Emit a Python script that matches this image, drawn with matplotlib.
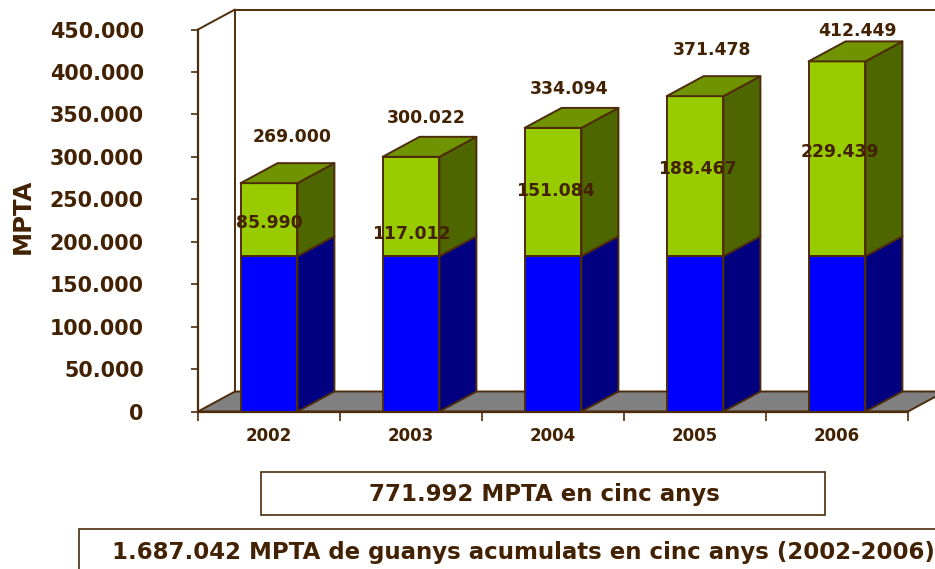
import matplotlib
matplotlib.use("Agg")
import matplotlib.pyplot as plt
from matplotlib.patches import Polygon, Rectangle

years = ["2002", "2003", "2004", "2005", "2006"]
base_values = [183010, 183010, 183010, 183011, 183010]
extra_values = [85990, 117012, 151084, 188467, 229439]
total_values = [269000, 300022, 334094, 371478, 412449]
yticks = list(range(0, 450001, 50000))

W, H = 935, 569
TXT = "#432203"
LINE = "#4D2C0C"
plt.rcParams["font.family"] = ["DejaVu Sans"]
plt.rcParams["font.weight"] = "bold"

fig = plt.figure(figsize=(W / 100, H / 100), dpi=100)
L, R, T, B = 198, 908, 29.5, 411.5
ax = fig.add_axes([L / W, 1 - B / H, (R - L) / W, (B - T) / H])
ax.set_xlim(0, 5)
ax.set_ylim(0, 450000)
ax.patch.set_alpha(0)

DX = 37 / (R - L) * 5
DY = 20 / (B - T) * 450000
BW = 0.4


def poly(pts, fc, z):
    ax.add_patch(Polygon(pts, closed=True, facecolor=fc, edgecolor=LINE, lw=1.4,
                         zorder=z, clip_on=False, joinstyle="round"))


# floor and walls
poly([(0, 0), (5, 0), (5 + DX, DY), (DX, DY)], "#808080", 1)
ax.plot([0, DX, DX], [450000, 450000 + DY, DY], color=LINE, lw=1.4, clip_on=False, zorder=1)
ax.plot([DX, 5.3], [450000 + DY, 450000 + DY], color=LINE, lw=1.4, clip_on=False, zorder=1)


def bar3d(x, y0, y1, front, side, top=None, z=3):
    l, r = x - BW / 2, x + BW / 2
    poly([(r, y0), (r + DX, y0 + DY), (r + DX, y1 + DY), (r, y1)], side, z)
    poly([(l, y0), (r, y0), (r, y1), (l, y1)], front, z)
    if top:
        poly([(l, y1), (r, y1), (r + DX, y1 + DY), (l + DX, y1 + DY)], top, z)


total_dy = [46, 39, 39, 46, 30]
total_dx = [23, 15, 16, 17, 20]
extra_dx = [0, 0, 2, 2, 3]
extra_dy = [-3, -28, 1, 7, 7]

for i, year in enumerate(years):
    x = i + 0.5
    b, e, t = base_values[i], extra_values[i], total_values[i]
    bar3d(x, 0, b, "#0000FF", "#000080", None, 3 + i)
    bar3d(x, b, b + e, "#99CC00", "#4D6600", "#6F9400", 3 + i)
    ax.annotate(f"{t:,}".replace(",", "."), (x, t), xytext=(total_dx[i], total_dy[i]),
                textcoords="offset pixels", ha="center", va="center",
                fontsize=12.4, color=TXT, zorder=20, annotation_clip=False)
    ax.annotate(f"{e:,}".replace(",", "."), (x, b + e / 2), xytext=(extra_dx[i], extra_dy[i]),
                textcoords="offset pixels", ha="center", va="center",
                fontsize=12.4, color=TXT, zorder=20, annotation_clip=False)

for s in ["top", "right"]:
    ax.spines[s].set_visible(False)
for s in ["left", "bottom"]:
    ax.spines[s].set_color(LINE)
    ax.spines[s].set_linewidth(1.6)
    ax.spines[s].set_zorder(15)

ax.set_yticks(yticks)
ax.set_yticklabels([f"{v:,}".replace(",", ".") for v in yticks], fontsize=14.9, color=TXT)
ax.tick_params(axis="y", length=5, width=1.2, color=LINE, pad=34)
ax.set_xticks(range(6))
ax.set_xticklabels([])
ax.tick_params(axis="x", which="major", length=6.5, width=1.2, color=LINE)
ax.set_xticks([i + 0.5 for i in range(5)], minor=True)
ax.set_xticklabels(years, minor=True, fontsize=12, color=TXT)
ax.tick_params(axis="x", which="minor", length=0, pad=11)

fig.text(23 / W, 1 - 216 / H, "MPTA", rotation=90, ha="center", va="center", fontsize=17.5, color=TXT)

fig.add_artist(Rectangle((261 / W, 1 - 515 / H), 564 / W, 43 / H, transform=fig.transFigure,
                         facecolor="white", edgecolor=LINE, lw=1.2))
fig.text(544.5 / W, 1 - 495 / H, "771.992 MPTA en cinc anys", ha="center", va="center", fontsize=16.5, color=TXT)
fig.add_artist(Rectangle((79 / W, 1 - 600 / H), 900 / W, 71 / H, transform=fig.transFigure,
                         facecolor="white", edgecolor=LINE, lw=1.2, clip_on=True))
fig.text(523 / W, 1 - 553 / H, "1.687.042 MPTA de guanys acumulats en cinc anys (2002-2006)",
         ha="center", va="center", fontsize=16.5, color=TXT)

fig.savefig("out.png", dpi=100)
